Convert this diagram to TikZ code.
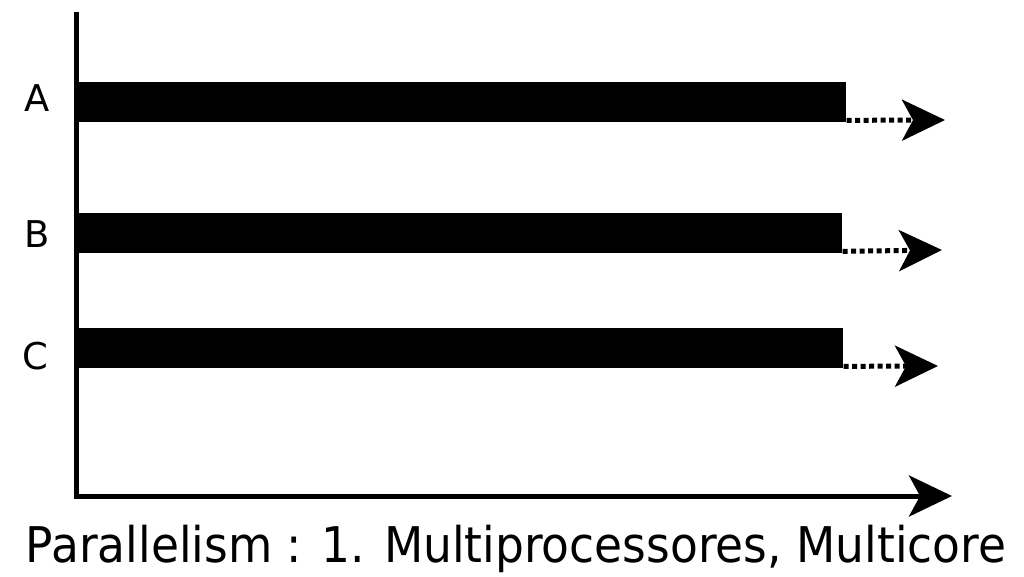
\documentclass[tikz,border=0pt]{standalone}
\usepackage{fontspec}
\setmainfont{DejaVu Sans}
\usetikzlibrary{arrows.meta}

\begin{document}
\begin{tikzpicture}[x=0.02cm,y=-0.02cm,
    >={Stealth[length=0.86cm,width=0.82cm,inset=0.22cm]},
    bar/.style={fill=black,inner sep=0pt,anchor=west,minimum height=0.8cm},
    trail/.style={->,line width=0.1cm,dash pattern=on 0.1cm off 0.07cm},
    lbl/.style={font=\fontsize{21}{21}\selectfont}]
    \useasboundingbox (0,0) rectangle (1024,577);
    \begin{scope}
        % axes
        \coordinate (top) at (76,12);
        \coordinate (O) at (76,496);
        \coordinate (xend) at (952,496);
        \draw[->,line width=0.1cm,line join=miter] (top) -- (O) -- (xend);
        % threads
        \node[lbl] (A) at (37,98) {A};
        \node[bar,minimum width=15.36cm] (barA) at (78,102) {};
        \coordinate (tipA) at (945,120);
        \draw[trail] (barA.south east) ++(0,-2) -- (tipA);
        \node[lbl] (B) at (37,234) {B};
        \node[bar,minimum width=15.28cm] (barB) at (78,233) {};
        \coordinate (tipB) at (942,250);
        \draw[trail] (barB.south east) ++(0,-2) -- (tipB);
        \node[lbl] (C) at (35,356) {C};
        \node[bar,minimum width=15.3cm] (barC) at (78,348) {};
        \coordinate (tipC) at (938,366);
        \draw[trail] (barC.south east) ++(0,-2) -- (tipC);
    \end{scope}
    \node[font=\fontsize{28}{28}\selectfont,xscale=0.925,transform shape] (cap) at (516,549) {Parallelism : 1. Multiprocessores, Multicore};
\end{tikzpicture}
\end{document}
